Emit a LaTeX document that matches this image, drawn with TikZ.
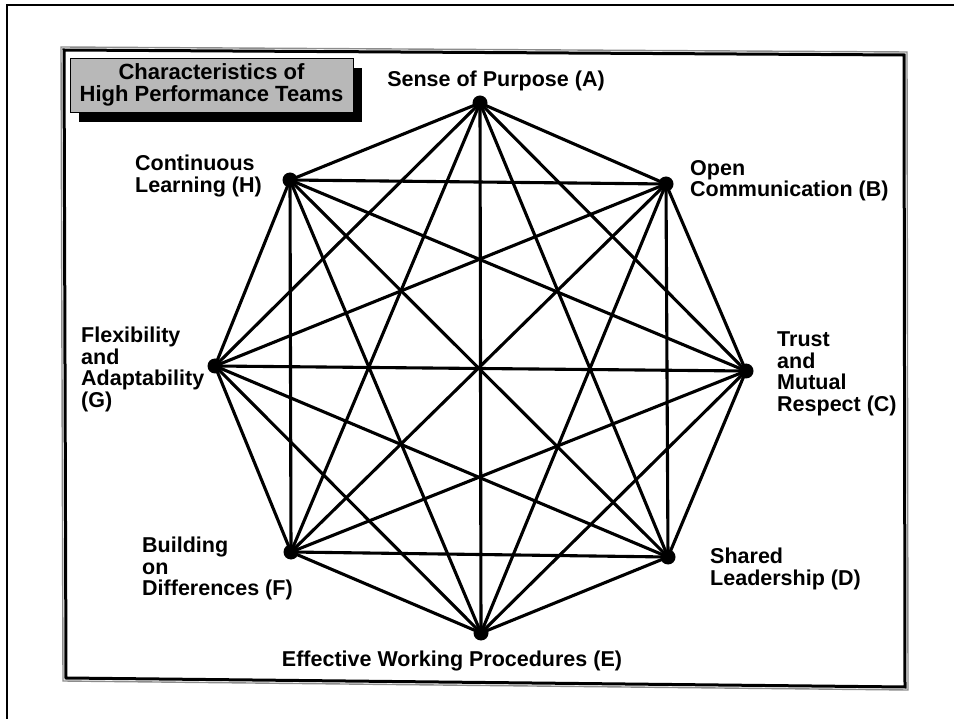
\documentclass[tikz,border=0pt]{standalone}
\usepackage{fontspec}
\setmainfont{Liberation Sans}
\begin{document}
\begin{tikzpicture}[x=1pt,y=-1pt,
  edge/.style={line width=3.1pt, line cap=round},
  dotmark/.style={circle, fill=black, inner sep=0pt, minimum size=15pt},
  lbl/.style={font=\bfseries\fontsize{21.5}{21.5}\selectfont, inner sep=0pt, align=left},
  titletext/.style={font=\bfseries\fontsize{22}{22}\selectfont, inner sep=0pt, align=center},
  frameline/.style={line width=3pt, line join=miter},
  frameshade/.style={line width=1.4pt, draw=black!45}
]
\useasboundingbox (0,0) rectangle (954,719);
% page edge
\draw[line width=2pt] (7,719) -- (7,5) -- (954,5);
% double frame
\draw[frameshade] (61,47) -- (907,52) -- (908,690) -- (63,681) -- cycle;
\draw[frameline] (64,50) -- (904,55) -- (905,687) -- (66,678) -- cycle;
% title box with shadow
\fill[black] (79,68) rectangle (362,122);
\node[titletext, draw=black, line width=0.8pt, fill=black!28,
      minimum width=283pt, minimum height=54pt] (title) at (211.5,85)
  {Characteristics of\\High Performance Teams};
% vertices
\coordinate (A) at (480,103);
\coordinate (B) at (666,184);
\coordinate (C) at (746,371);
\coordinate (D) at (668,557);
\coordinate (E) at (481,633);
\coordinate (F) at (291,552);
\coordinate (G) at (215,366);
\coordinate (H) at (290,180);
% all connections
\foreach \u/\v in {A/B,A/C,A/D,A/E,A/F,A/G,A/H,
                   B/C,B/D,B/E,B/F,B/G,B/H,
                   C/D,C/E,C/F,C/G,C/H,
                   D/E,D/F,D/G,D/H,
                   E/F,E/G,E/H,
                   F/G,F/H,
                   G/H}
  \draw[edge] (\u) -- (\v);
\foreach \p in {A,B,C,D,E,F,G,H}
  \node[dotmark] (dot\p) at (\p) {};
% labels
\node[lbl, anchor=base] (lA) at (496,87) {Sense of Purpose (A)};
\node[lbl, anchor=north west] (lB) at (690,160) {Open\\Communication (B)};
\node[lbl, anchor=north west] (lC) at (777,332) {Trust\\and\\Mutual\\Respect (C)};
\node[lbl, anchor=north west] (lD) at (710,548) {Shared\\Leadership (D)};
\node[lbl, anchor=base] (lE) at (452,666) {Effective Working Procedures (E)};
\node[lbl, anchor=north west] (lF) at (142,537) {Building\\on\\Differences (F)};
\node[lbl, anchor=north west] (lG) at (81,327) {Flexibility\\and\\Adaptability\\(G)};
\node[lbl, anchor=north west] (lH) at (135,155) {Continuous\\Learning (H)};
\end{tikzpicture}
\end{document}
